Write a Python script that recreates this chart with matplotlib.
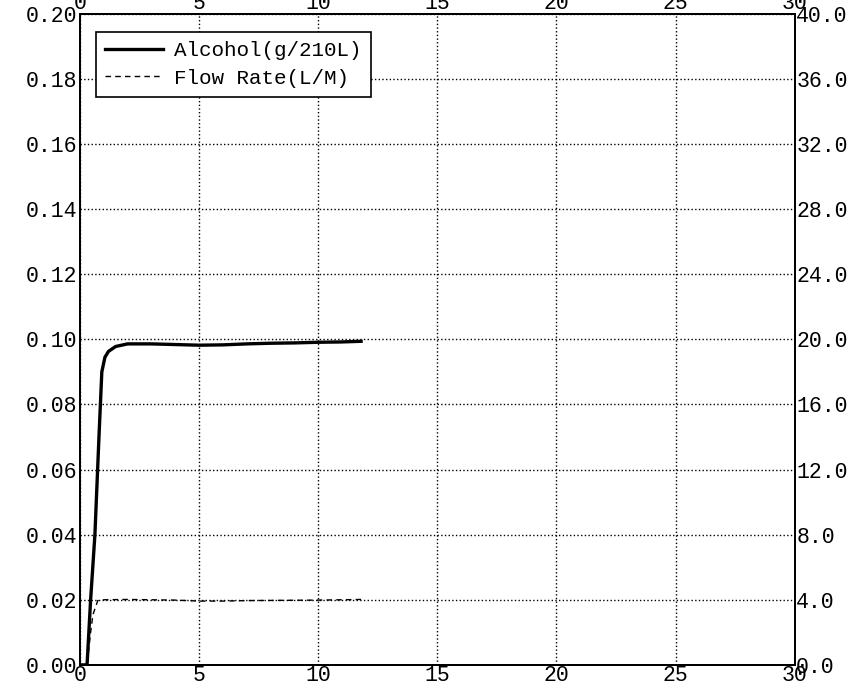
import matplotlib
matplotlib.use('Agg')
import matplotlib.pyplot as plt

# Alcohol trace (left axis, g/210L) vs time
alc_t = [0.0, 0.3, 0.45, 0.63, 0.8, 0.92, 1.05, 1.2, 1.5, 2.0, 3.0, 4.0, 5.0, 6.0,
         7.0, 8.0, 9.0, 10.0, 11.0, 11.8]
alc_v = [0.0, 0.0, 0.02, 0.04, 0.07, 0.090, 0.0945, 0.0963, 0.0978, 0.0986, 0.0986,
         0.0984, 0.0982, 0.0983, 0.0986, 0.0988, 0.0989, 0.0991, 0.0992, 0.0994]

# Flow rate trace (right axis, L/M) vs time
flow_t = [0.0, 0.3, 0.45, 0.55, 0.75, 1.0, 2.0, 3.0, 4.0, 5.0, 6.0, 7.0, 8.0, 9.0,
          10.0, 11.0, 11.8]
flow_v = [0.0, 0.0, 2.0, 3.1, 3.95, 4.0, 4.02, 4.0, 3.98, 3.92, 3.92, 3.95, 3.96,
          3.97, 3.98, 4.0, 4.02]

left_ticks = [0.00, 0.02, 0.04, 0.06, 0.08, 0.10, 0.12, 0.14, 0.16, 0.18, 0.20]
right_ticks = [0.0, 4.0, 8.0, 12.0, 16.0, 20.0, 24.0, 28.0, 32.0, 36.0, 40.0]
x_ticks = [0, 5, 10, 15, 20, 25, 30]

mono = 'Liberation Mono'
plt.rcParams['font.family'] = [mono, 'DejaVu Sans']

fig = plt.figure(figsize=(8.5, 6.89), dpi=100)
ax = fig.add_axes([0.094, 0.035, 0.841, 0.945])
ax2 = ax.twinx()

l1, = ax.plot(alc_t, alc_v, color='black', lw=2.4, label='Alcohol(g/210L)', zorder=3)
l2, = ax2.plot(flow_t, flow_v, color='black', lw=1.0, dashes=(4, 3),
               label='Flow Rate(L/M)', zorder=3)

ax.set_xlim(0, 30)
ax.set_ylim(0, 0.20)
ax2.set_ylim(0, 40)

ax.set_xticks(x_ticks)
ax.set_yticks(left_ticks)
ax.set_yticklabels([f"{v:.2f}" for v in left_ticks])
ax2.set_yticks(right_ticks)
ax2.set_yticklabels([f"{v:.1f}" for v in right_ticks])

ax.grid(True, color='black', linestyle=':', linewidth=1.0)
ax.tick_params(axis='both', length=0, labelsize=15.5, pad=2,
               labeltop=True, top=False)
ax.tick_params(axis='x', pad=0)
ax2.tick_params(axis='y', length=0, labelsize=15.5, pad=1)

for sp in list(ax.spines.values()) + list(ax2.spines.values()):
    sp.set_linewidth(1.4)

leg = ax.legend(handles=[l1, l2], loc='upper left', bbox_to_anchor=(0.022, 0.972),
                fontsize=15, frameon=True, fancybox=False, framealpha=1,
                edgecolor='black', handlelength=2.8, borderpad=0.45,
                labelspacing=0.4, handletextpad=0.5, borderaxespad=0)
leg.get_frame().set_linewidth(1.2)
leg.set_zorder(10)

fig.savefig('out.png', dpi=100)
